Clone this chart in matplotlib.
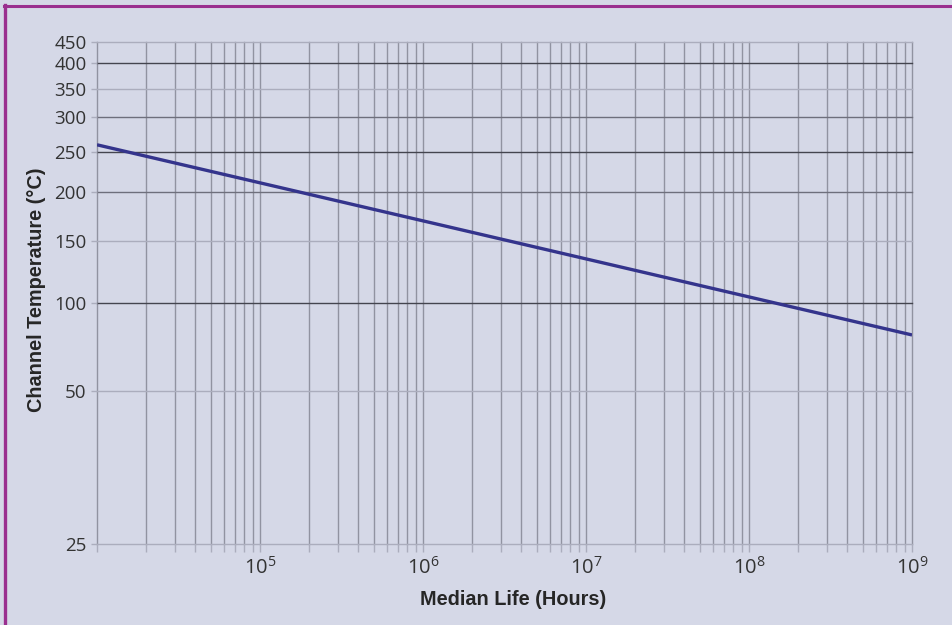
import numpy as np
import matplotlib
matplotlib.use("Agg")
import matplotlib.pyplot as plt
from matplotlib.lines import Line2D
from matplotlib.ticker import FixedLocator, FixedFormatter

# ---- data ----
life_hours = [1e4, 1e9]          # median life (hours)
channel_temp = [260, 82]         # channel temperature (degC)

temp_ticks = [25, 50, 100, 150, 200, 250, 300, 350, 400, 450]
# calibration of the printed (non-uniform) temperature axis: fraction of height
temp_axis_pos = [0.0, 0.3036, 0.4789, 0.6036, 0.7000, 0.7809, 0.8494, 0.9064, 0.9576, 1.0]
temp_grid_shade = ['light', 'light', 'dark', 'light', 'mid', 'dark', 'mid', 'light', 'dark', 'light']

decades = [4, 5, 6, 7, 8, 9]
decade_labels = ['', r'$10^{5}$', r'$10^{6}$', r'$10^{7}$', r'$10^{8}$', r'$10^{9}$']

# ---- style ----
BG = '#d5d8e7'
LINE = '#34348c'
BORDER = '#9a2f8f'
shade_color = {'light': '#abadbd', 'mid': '#6e6f7c', 'dark': '#44454f'}
VGRID = '#9193a1'

plt.rcParams['font.family'] = ['Open Sans', 'DejaVu Sans']
plt.rcParams['mathtext.default'] = 'regular'

fig = plt.figure(figsize=(9.53, 6.25), dpi=100, facecolor=BG)
ax = fig.add_axes([0.1018, 0.1301, 0.8552, 0.8032])
ax.set_facecolor(BG)

def fwd(v):
    return np.interp(v, temp_ticks, temp_axis_pos)

def inv(p):
    return np.interp(p, temp_axis_pos, temp_ticks)

ax.set_xscale('log')
ax.set_yscale('function', functions=(fwd, inv))
ax.set_xlim(1e4, 1e9)
ax.set_ylim(25, 450)

# x ticks at every 1..9 multiple
xpos = []
xlab = []
for d, lab in zip(decades, decade_labels):
    for m in range(1, 10):
        if d == decades[-1] and m > 1:
            break
        xpos.append(m * 10.0 ** d)
        xlab.append(lab if m == 1 else '')
ax.xaxis.set_major_locator(FixedLocator(xpos))
ax.xaxis.set_major_formatter(FixedFormatter(xlab))
ax.xaxis.set_minor_locator(FixedLocator([]))
ax.yaxis.set_major_locator(FixedLocator(temp_ticks))
ax.yaxis.set_major_formatter(FixedFormatter([str(t) for t in temp_ticks]))
ax.yaxis.set_minor_locator(FixedLocator([]))

# grids
for xv in xpos:
    ax.axvline(xv, color=VGRID, lw=1.0, zorder=1, clip_on=False)
for tv, sh in zip(temp_ticks, temp_grid_shade):
    ax.axhline(tv, color=shade_color[sh], lw=1.0, zorder=1.5, clip_on=False)

for s in ax.spines.values():
    s.set_visible(False)

ax.tick_params(axis='x', length=5.5, width=1, color='#abadbd', direction='out', pad=4,
               labelsize=14.5, labelcolor='#333333')
ax.tick_params(axis='y', length=4, width=1, color='#abadbd', direction='out', pad=3.5,
               labelsize=13.5, labelcolor='#333333')

ax.plot(life_hours, channel_temp, color=LINE, lw=2.4, zorder=3, solid_capstyle='butt')

ax.set_xlabel('Median Life (Hours)', family='Liberation Sans', fontweight='bold',
              fontsize=14.3, color='#262626')
ax.xaxis.set_label_coords(0.51, -0.092)
ax.set_ylabel('Channel Temperature (°C)', family='Liberation Sans', fontweight='bold',
              fontsize=14.3, color='#262626')
ax.yaxis.set_label_coords(-0.0625, 0.505)

# purple frame on the top and left edges
fig.add_artist(Line2D([0.004, 1.0], [1 - 6 / 625, 1 - 6 / 625], transform=fig.transFigure,
                      color=BORDER, lw=2.2))
fig.add_artist(Line2D([5.5 / 953, 5.5 / 953], [0, 1 - 5 / 625], transform=fig.transFigure,
                      color=BORDER, lw=2.4))

fig.savefig('out.png', dpi=100, facecolor=BG)
